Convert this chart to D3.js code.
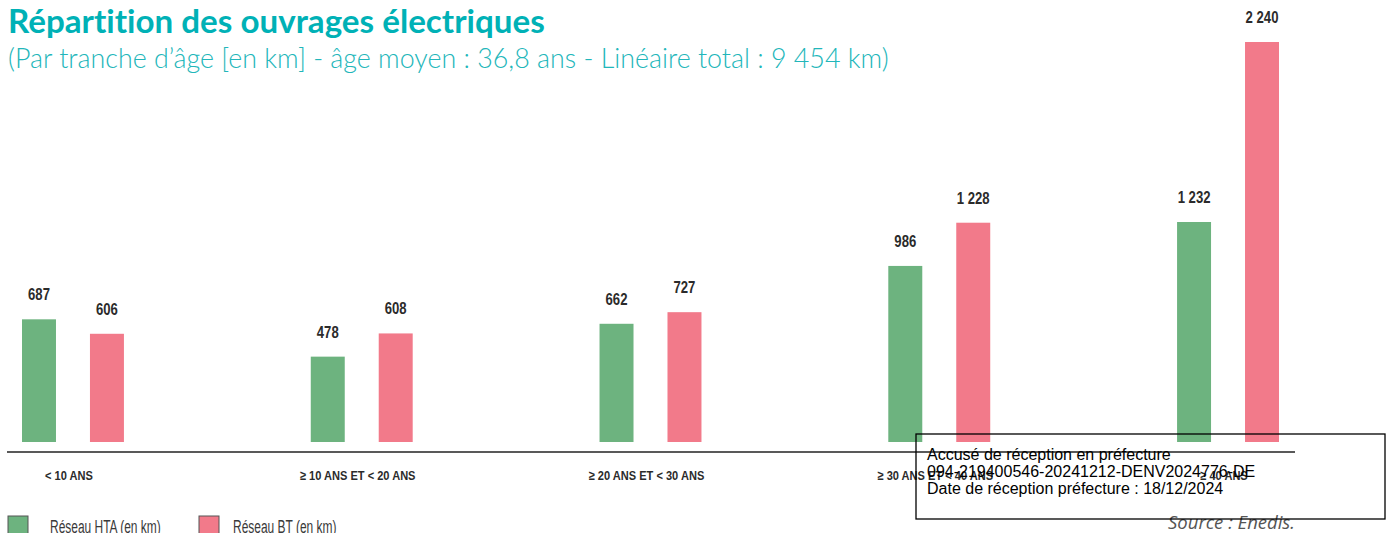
<!DOCTYPE html>
<html lang="fr">
<head>
<meta charset="utf-8">
<script src="https://cdn.jsdelivr.net/npm/d3@7"></script>
<style>
  html, body { margin: 0; padding: 0; background: #fff; }
  svg { display: block; }
  text { font-variant-ligatures: none; }
</style>
</head>
<body>
<svg id="chart" width="1390" height="533"></svg>
<script>
// Linéaire par tranche d'âge, en km
const categories = ["< 10 ANS", "≥ 10 ANS ET < 20 ANS", "≥ 20 ANS ET < 30 ANS", "≥ 30 ANS ET < 40 ANS", "≥ 40 ANS"];
const seriesNames = ["Réseau HTA (en km)", "Réseau BT (en km)"];
const htaValues = [687, 478, 662, 986, 1232];
const btValues = [606, 608, 727, 1228, 2240];
const seriesColors = ["#6db37f", "#f27a8a"];

const title = "Répartition des ouvrages électriques";
const subtitle = "(Par tranche d’âge [en km] - âge moyen : 36,8 ans - Linéaire total : 9 454 km)";
const source = "Source : Enedis.";
const stampLines = [
  "Accusé de réception en préfecture",
  "094-219400546-20241212-DENV2024776-DE",
  "Date de réception préfecture : 18/12/2024"
];

const svg = d3.select("#chart");
// Étroite : Liberation Sans compressée horizontalement
const narrow = "'Liberation Sans', Arial, sans-serif";
const squeeze = 0.82;

const rows = categories.map((c, i) => ({ cat: c, values: [htaValues[i], btValues[i]] }));

const x0 = d3.scaleBand().domain(categories).range([22, 1279]).paddingInner(0.647).paddingOuter(0);
const x1 = d3.scaleBand().domain([0, 1]).range([0, x0.bandwidth()]).paddingInner(0.5).paddingOuter(0);
const y = d3.scaleLinear().domain([0, d3.max(btValues.concat(htaValues))]).range([442, 42]);

const fmt = d3.formatLocale({ decimal: ",", thousands: " ", grouping: [3], currency: ["", " €"] }).format(",d");

// Titre et sous-titre
function fitText(sel, width) {
  const node = sel.node();
  const size = parseFloat(sel.attr("font-size"));
  const w = node.getComputedTextLength();
  sel.attr("font-size", (size * width / w).toFixed(2));
}
svg.append("text").attr("x", 8).attr("y", 33)
  .attr("font-family", "Lato, 'Open Sans', sans-serif").attr("font-weight", 700)
  .attr("font-size", 24).attr("fill", "#00b1b6").text(title)
  .call(fitText, 537);
svg.append("text").attr("x", 8).attr("y", 68)
  .attr("font-family", "Lato, 'Open Sans', sans-serif").attr("font-weight", 300)
  .attr("font-size", 22).attr("fill", "#22b6ba").text(subtitle)
  .call(fitText, 881);

// Barres groupées
const groups = svg.append("g").selectAll("g").data(rows).join("g")
  .attr("transform", d => `translate(${x0(d.cat)},0)`);

groups.selectAll("rect").data(d => d.values.map((v, k) => ({ k, v }))).join("rect")
  .attr("x", d => x1(d.k))
  .attr("y", d => y(d.v))
  .attr("width", x1.bandwidth())
  .attr("height", d => y(0) - y(d.v))
  .attr("fill", d => seriesColors[d.k]);

groups.selectAll("text.val").data(d => d.values.map((v, k) => ({ k, v }))).join("text")
  .attr("class", "val")
  .attr("transform", d => `translate(${x1(d.k) + x1.bandwidth() / 2},${y(d.v) - 19}) scale(${squeeze},1)`)
  .attr("text-anchor", "middle")
  .attr("font-family", narrow).attr("font-weight", 700).attr("font-size", 16)
  .attr("fill", "#2b2b2b")
  .text(d => fmt(d.v));

// Ligne de base et libellés des tranches
svg.append("line").attr("x1", 7).attr("x2", 1295).attr("y1", 452).attr("y2", 452)
  .attr("stroke", "#222").attr("stroke-width", 1.5);

const xAxis = d3.axisBottom(x0).tickSize(0).tickPadding(0);
const axisG = svg.append("g").attr("transform", "translate(-4,470)").call(xAxis);
axisG.select(".domain").remove();
axisG.selectAll("text")
  .attr("font-family", narrow).attr("font-weight", 700).attr("font-size", 13.5)
  .attr("fill", "#2b2b2b").attr("dy", "0.71em")
  .attr("transform", `scale(${squeeze},1)`);

// Légende
const legendSwatchX = [8, 199];
const legendTextGap = [42, 34];
const legend = svg.append("g").selectAll("g").data(seriesNames).join("g")
  .attr("transform", (d, i) => `translate(${legendSwatchX[i]},516)`);
legend.append("rect").attr("width", 20).attr("height", 20)
  .attr("fill", (d, i) => seriesColors[i]).attr("stroke", "#555").attr("stroke-width", 1);
legend.append("text").attr("transform", (d, i) => `translate(${legendTextGap[i]},17) scale(0.63,1)`)
  .attr("font-family", narrow).attr("font-size", 19).attr("fill", "#3a3a3a")
  .text(d => d);

// Source
svg.append("text").attr("x", 1295).attr("y", 529).attr("text-anchor", "end")
  .attr("font-family", "'Open Sans', 'Noto Sans', sans-serif").attr("font-style", "italic")
  .attr("font-size", 16).attr("fill", "#555").text(source)
  .call(fitText, 127);

// Cachet d'accusé de réception
svg.append("rect").attr("x", 916).attr("y", 434).attr("width", 469).attr("height", 85)
  .attr("fill", "none").attr("stroke", "#000").attr("stroke-width", 1.3);
svg.append("g").selectAll("text").data(stampLines).join("text")
  .attr("x", 927).attr("y", (d, i) => 460 + i * 16.75)
  .attr("font-family", "'Liberation Sans', Arial, sans-serif").attr("font-size", 16)
  .attr("fill", "#000").text(d => d);
</script>
</body>
</html>
